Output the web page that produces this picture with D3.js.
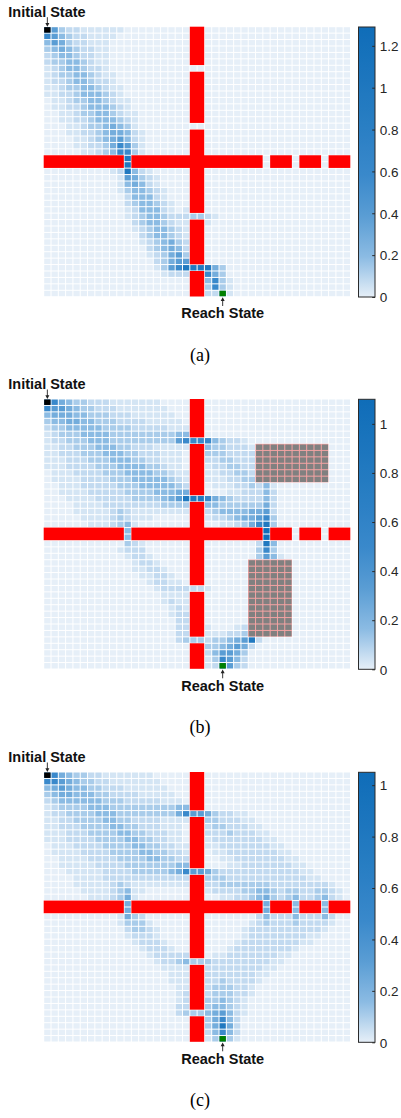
<!DOCTYPE html>
<html><head><meta charset="utf-8">
<script src="https://cdn.jsdelivr.net/npm/d3@7"></script>
<style>body{margin:0;background:#fff}svg{display:block}</style>
</head><body>
<svg id="chart" width="401" height="1118"></svg>
<script>
// ---------------- data ----------------
const N = 42;                       // grid is 42 x 42 cells
const panelLabels = ["(a)", "(b)", "(c)"];
const colorMax = [1.29, 1.10, 1.05];
const colorTicks = [
  [0, 0.2, 0.4, 0.6, 0.8, 1, 1.2],
  [0, 0.2, 0.4, 0.6, 0.8, 1],
  [0, 0.2, 0.4, 0.6, 0.8, 1]
];
// colormap (fraction of max -> colour)
const cmapStops = [0, 0.15, 0.3, 0.45, 0.62, 1];
const cmapColors = ["#e6eff8", "#8bbbe3", "#5a9dd4", "#3a89cb", "#2a7fc4", "#0f6db8"];
// value (fraction of colour max) read for each level code 0-9
const levelFraction = [0, 0.03, 0.06, 0.1, 0.15, 0.22, 0.3, 0.45, 0.75, 1.0];
const initialCell = [0, 0];         // [row, col]
const reachCell = [41, 24];
const wallCols = [20, 21];          // vertical wall columns
const wallRowRuns = [[0, 5], [7, 14], [16, 28], [30, 36], [38, 41]];
const wallRows = [20, 21];          // horizontal wall rows
const wallColRuns = [[0, 10], [12, 29], [31, 33], [35, 37], [39, 41]];
const greyBlocks = [[], [{r0: 7, r1: 12, c0: 29, c1: 38}, {r0: 25, r1: 36, c0: 28, c1: 33}], []];

// heat level codes (0-9) per cell
// each row: space separated "startColumn:digits" segments, unlisted cells = 0
const levelsA = [
"0:96322111111","0:7643221111","0:465322111","0:345432211","0:234432211",
"0:233443211","0:123443221","0:1233443211","0:1223443221","0:11233443211",
"0:11223444321","1:11233443211","1:11223444321","2:11233443211","2:11223444321",
"3:1123345431","3:11223455421","4:1123456421","4:1122357631","5:112347731",
"11:8","11:8","9:128421","10:165321","10:145421",
"10:1344321","11:244421","11:2344321","11:124442101","11:1234432223321",
"12:23443211 22:1","12:12344321","13:2344321","13:1234532","14:234542",
"14:123563","15:23566","15:1367888853","16:1222 22:753","22:4731",
"22:3731","22:2291"
];
const levelsB = [
"0:9754332221111111","0:76654332221111111","0:455544333222111111","0:3445544333222211111",
"0:23344444333322222111","0:12333444433333333344",
"0:12233344433333333367 20:77743221",
"0:11223334443322211111 22:4332221",
"0:11222333444332221110 22:3332222",
"0:11122233344433221110 22:2233222",
"0:11122223334444332110 22:1223322",
"0:01112222333444433211 22:1122332",
"0:01111222233344444321 22:1112233",
"0:00111222223334444432 22:0111223241",
"0:00111122222333344455 22:0001122242",
"0:00011112222233334568 20:887543222242",
"0:00001111222222223333 22:4433333352",
"0:00001111123211111111 22:2344445562",
"0:00000111123211100000 22:1223455673",
"0:00000011123410000000 22:0011235783",
"11:4 30:9","11:4 30:9",
"11:321 29:284","10:1222 29:373","11:1221 29:3641",
"12:1221","12:11221","13:11221","14:12211","15:12222 20:221",
"16:1111","16:1211","17:121","17:122","18:22",
"18:22 22:100012","18:22 22:111223","18:23 20:3323345682",
"22:3345652","22:246653","22:137642","22:129632"
];
const levelsC = [
"0:975433221111111","0:7765433221111111","0:45654433222111111","0:345544433222211111",
"0:2344444433322222111","0:12333344433333333344",
"0:12233334443333333357 20:66532211",
"0:11223333443322221111 22:3322211",
"0:11222333344332221110 22:23322211",
"0:11122233334433222110 22:222322211",
"0:11122223333443322110 22:1222222211",
"0:01112222333344332211 22:11222222211",
"0:01111222233334433221 22:011222222211",
"0:00111122223333443322 22:0011222222211",
"0:00111112222333333344 22:00011222222211",
"0:00011111222233333457 20:66532222222222211",
"0:00001111222222222222 22:3332222222222211",
"0:00001111123211111111 22:223333333222222221",
"0:00000111123411000000 22:1222233443233223321",
"0:00000011123510000000 22:0011223453234223421",
"11:5 30:5 34:4 38:4","11:5 30:5 34:4 38:4",
"10:1532 29:24222422242","10:13331 28:123222322221","11:23321 27:122222222221",
"11:12221 27:12222222211","12:12221 26:12222222211","13:12221 25:1222222221",
"14:122222 23:11222222211","15:12234 20:3332222222211",
"16:1111 22:2222222211","17:111 22:222222211","17:111 22:22322221",
"18:11 22:2333221","18:12 22:2333221","18:12 22:334321","18:22 22:344321",
"18:23 20:33456421","22:35742","22:35852","22:24742","22:13931"
];
const panelLevels = [levelsA, levelsB, levelsC];

// ---------------- drawing ----------------
function parseLevels(rows) {
  return rows.map(s => {
    const arr = new Array(N).fill(0);
    s.trim().split(/\s+/).forEach(seg => {
      const [o, digits] = seg.split(":");
      let c = +o;
      for (const ch of digits) { if (c < N) arr[c] = +ch; c++; }
    });
    return arr;
  });
}

const svg = d3.select("#chart");
const panelTop = [27, 399.3, 772.3];
const heatH = 270;
const x = d3.scaleBand().domain(d3.range(N)).range([44, 350.8]);
const bw = x.bandwidth();
const sans = "'Liberation Sans', Arial, Helvetica, sans-serif";

panelLevels.forEach((rows, p) => {
  const top = panelTop[p], bottom = top + heatH, cmax = colorMax[p];
  const y = d3.scaleBand().domain(d3.range(N)).range([top, bottom]);
  const bh = y.bandwidth();
  const color = d3.scaleLinear().domain(cmapStops.map(s => s * cmax)).range(cmapColors)
    .interpolate(d3.interpolateRgb).clamp(true);
  const lv = parseLevels(rows);
  const cells = [];
  lv.forEach((row, r) => row.forEach((l, c) => cells.push({r, c, v: levelFraction[l] * cmax})));
  const g = svg.append("g");

  g.selectAll("rect.cell").data(cells).join("rect")
    .attr("x", d => x(d.c) + 0.2).attr("y", d => y(d.r) + 0.2)
    .attr("width", bw - 1).attr("height", bh - 1)
    .attr("fill", d => color(d.v));

  // walls
  g.selectAll("rect.vwall").data(wallRowRuns).join("rect")
    .attr("x", x(wallCols[0]) - 0.3)
    .attr("width", x(wallCols[1]) + bw - x(wallCols[0]) - 0.2)
    .attr("y", d => y(d[0]) - 0.3)
    .attr("height", d => y(d[1]) + bh - y(d[0]) - 0.2)
    .attr("fill", "#ff0000");
  g.selectAll("rect.hwall").data(wallColRuns).join("rect")
    .attr("x", d => x(d[0]) - 0.3)
    .attr("width", d => x(d[1]) + bw - x(d[0]) - 0.2)
    .attr("y", y(wallRows[0]) - 0.3)
    .attr("height", y(wallRows[1]) + bh - y(wallRows[0]) - 0.2)
    .attr("fill", "#ff0000");

  // grey blocked areas
  greyBlocks[p].forEach(b => {
    g.append("rect")
      .attr("x", x(b.c0) - 0.5).attr("y", y(b.r0) - 0.5)
      .attr("width", x(b.c1) + bw - x(b.c0)).attr("height", y(b.r1) + bh - y(b.r0))
      .attr("fill", "#f4a3a3");
    const gc = [];
    for (let r = b.r0; r <= b.r1; r++) for (let c = b.c0; c <= b.c1; c++) gc.push({r, c});
    g.selectAll(null).data(gc).join("rect")
      .attr("x", d => x(d.c) + 0.2).attr("y", d => y(d.r) + 0.2)
      .attr("width", bw - 1).attr("height", bh - 1)
      .attr("fill", "#808080");
  });

  // initial / reach cells
  g.append("rect").attr("x", x(initialCell[1]) + 0.2).attr("y", y(initialCell[0]) + 0.2)
    .attr("width", bw - 1).attr("height", bh - 1).attr("fill", "#000");
  g.append("rect").attr("x", x(reachCell[1]) + 0.2).attr("y", y(reachCell[0]) + 0.2)
    .attr("width", bw - 1).attr("height", bh - 1).attr("fill", "#008000");

  // labels with arrows
  const ix = x(initialCell[1]) + bw / 2 - 0.3;
  g.append("line").attr("x1", ix).attr("x2", ix).attr("y1", top - 9.8).attr("y2", top - 2)
    .attr("stroke", "#222").attr("stroke-width", 0.9);
  g.append("path").attr("d", `M${ix - 2},${top - 4} L${ix + 2},${top - 4} L${ix},${top - 0.3} Z`).attr("fill", "#222");
  g.append("text").attr("x", 8.3).attr("y", top - 10.3)
    .attr("font-family", sans).attr("font-weight", "bold").attr("font-size", 14.5)
    .attr("fill", "#111").text("Initial State");

  const rx = x(reachCell[1]) + bw / 2 - 0.3;
  g.append("line").attr("x1", rx).attr("x2", rx).attr("y1", bottom + 9).attr("y2", bottom + 2)
    .attr("stroke", "#222").attr("stroke-width", 0.9);
  g.append("path").attr("d", `M${rx - 2},${bottom + 4} L${rx + 2},${bottom + 4} L${rx},${bottom + 0.3} Z`).attr("fill", "#222");
  g.append("text").attr("x", rx).attr("y", bottom + 21.4).attr("text-anchor", "middle")
    .attr("font-family", sans).attr("font-weight", "bold").attr("font-size", 14.5)
    .attr("fill", "#111").text("Reach State");

  // caption
  g.append("text").attr("x", 200).attr("y", top + 334).attr("text-anchor", "middle")
    .attr("font-family", "'Liberation Serif', 'Times New Roman', serif").attr("font-size", 18)
    .attr("fill", "#000").text(panelLabels[p]);

  // colorbar
  const cbX = 358.5, cbW = 16.5;
  const cy = d3.scaleLinear().domain([0, cmax]).range([bottom, top]);
  const gid = "cbgrad" + p;
  const grad = svg.append("defs").append("linearGradient").attr("id", gid)
    .attr("x1", 0).attr("y1", 1).attr("x2", 0).attr("y2", 0);
  grad.selectAll("stop").data(d3.range(0, 1.0001, 0.05)).join("stop")
    .attr("offset", d => d).attr("stop-color", d => color(d * cmax));
  g.append("rect").attr("x", cbX).attr("y", top).attr("width", cbW).attr("height", heatH)
    .attr("fill", `url(#${gid})`).attr("stroke", "#2b2b2b").attr("stroke-width", 1);
  const axis = d3.axisRight(cy).tickValues(colorTicks[p]).tickSize(0).tickPadding(0)
    .tickFormat(d => String(d));
  const ag = g.append("g").attr("transform", `translate(${cbX + cbW},0)`).call(axis);
  ag.select(".domain").remove();
  ag.selectAll(".tick").append("line").attr("x1", -2.8).attr("x2", 0)
    .attr("stroke", "#2b2b2b").attr("stroke-width", 1);
  ag.selectAll(".tick text").attr("x", 4.8).attr("dy", "0.35em")
    .attr("font-family", sans).attr("font-size", 13.5).attr("fill", "#262626");
});
</script>
</body></html>
